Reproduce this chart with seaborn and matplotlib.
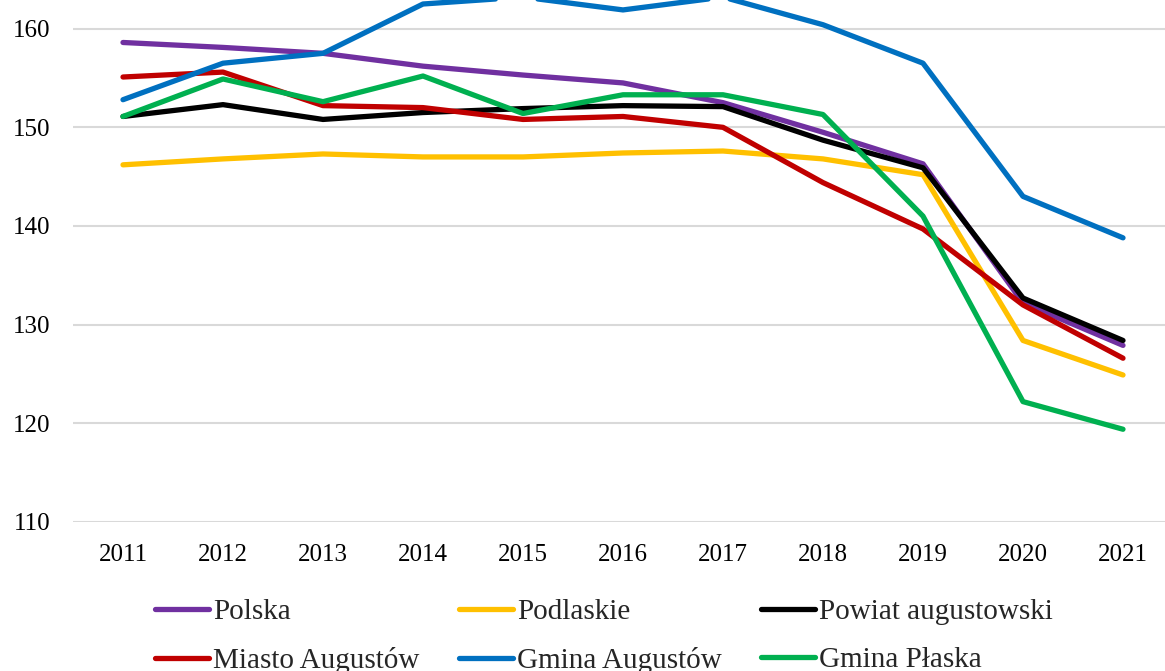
import matplotlib
matplotlib.use("Agg")
import matplotlib.pyplot as plt
import seaborn as sns
import pandas as pd

years = [2011, 2012, 2013, 2014, 2015, 2016, 2017, 2018, 2019, 2020, 2021]
polska = [158.6, 158.1, 157.5, 156.2, 155.3, 154.5, 152.5, 149.5, 146.3, 132.2, 127.9]
podlaskie = [146.2, 146.8, 147.3, 147.0, 147.0, 147.4, 147.6, 146.8, 145.2, 128.4, 124.9]
powiat = [151.1, 152.3, 150.8, 151.5, 151.9, 152.2, 152.1, 148.7, 145.9, 132.7, 128.4]
miasto = [155.1, 155.6, 152.2, 152.0, 150.8, 151.1, 150.0, 144.4, 139.7, 132.0, 126.6]
gmina_aug = [152.8, 156.5, 157.5, 162.5, 163.2, 161.9, 163.2, 160.4, 156.5, 143.0, 138.8]
gmina_plaska = [151.1, 154.9, 152.6, 155.2, 151.4, 153.3, 153.3, 151.3, 141.0, 122.2, 119.4]

series = {
    "Polska": polska,
    "Podlaskie": podlaskie,
    "Powiat augustowski": powiat,
    "Miasto Augustów": miasto,
    "Gmina Augustów": gmina_aug,
    "Gmina Płaska": gmina_plaska,
}
colors = {
    "Polska": "#7030A0",
    "Podlaskie": "#FFC000",
    "Powiat augustowski": "#000000",
    "Miasto Augustów": "#C00000",
    "Gmina Augustów": "#0070C0",
    "Gmina Płaska": "#00B050",
}

df = pd.concat(
    [pd.DataFrame({"rok": years, "wartosc": v, "seria": k}) for k, v in series.items()],
    ignore_index=True,
)

sns.set_theme(style="white")
plt.rcParams["font.family"] = ["Liberation Serif", "DejaVu Serif"]

fig = plt.figure(figsize=(11.65, 6.71), dpi=100)
ax = fig.add_axes([73 / 1165, 149 / 671, 1100 / 1165, 592 / 671])

sns.lineplot(data=df, x="rok", y="wartosc", hue="seria", palette=colors,
             linewidth=3.8, ax=ax, legend=False)

ax.set_xlim(2010.5, 2021.5)
ax.set_ylim(110, 170)
ax.set_xticks(years)
ax.set_yticks([110, 120, 130, 140, 150, 160])
ax.grid(axis="y", color="#d9d9d9", linewidth=1.5)
ax.set_axisbelow(True)
for s in ax.spines.values():
    s.set_visible(False)
ax.tick_params(axis="both", length=0, labelsize=18, colors="black")
ax.tick_params(axis="x", pad=16)
ax.tick_params(axis="y", pad=16)
ax.set_xlabel("")
ax.set_ylabel("")

# legend, filled row by row
order = ["Polska", "Miasto Augustów", "Podlaskie", "Gmina Augustów",
         "Powiat augustowski", "Gmina Płaska"]
handles = [plt.Line2D([], [], color=colors[n], linewidth=3.8) for n in order]
fig.legend(handles, order, ncol=3, loc="upper left",
           bbox_to_anchor=(140 / 1165, 1 - 584 / 671),
           frameon=False, fontsize=21, handlelength=1.85, handletextpad=0.15,
           columnspacing=1.35, labelspacing=0.75, borderpad=0)

fig.savefig("out.png", dpi=100)
